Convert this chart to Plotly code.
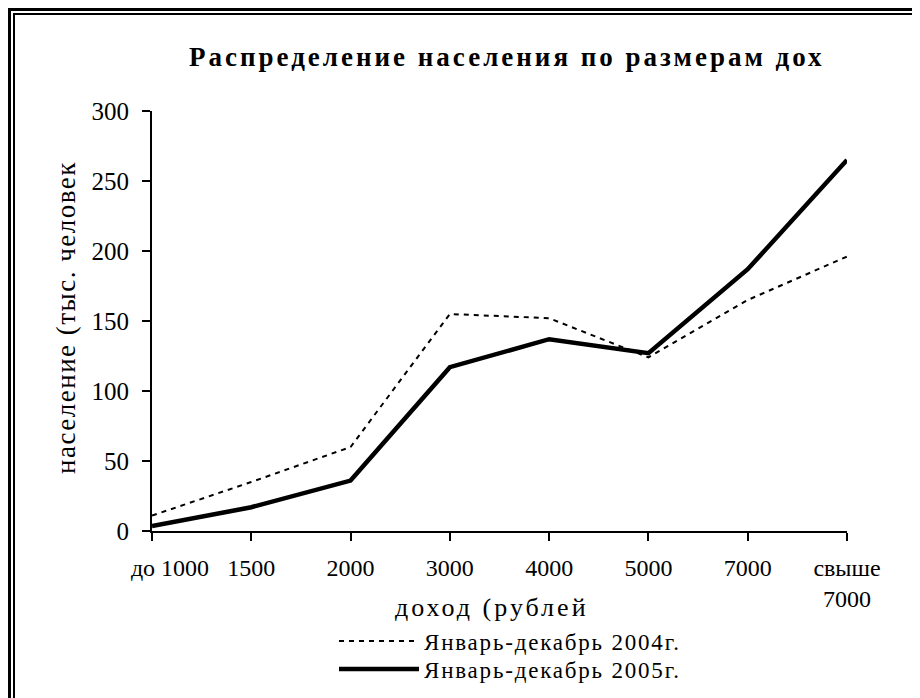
import plotly.graph_objects as go

categories = ["\u00a0\u00a0\u00a0\u00a0\u00a0\u00a0до 1000", "1500", "2000", "3000", "4000", "5000", "7000", "свыше<br>7000"]
series_2004 = [11, 35, 60, 155, 152, 124, 165, 196]
series_2005 = [3.5, 17, 36, 117, 137, 127, 187, 265]
name_2004 = "Январь-декабрь 2004г."
name_2005 = "Январь-декабрь 2005г."
y_ticks = [0, 50, 100, 150, 200, 250, 300]
title_text = "Распределение населения по размерам дох"
x_title = "доход (рублей"
y_title = "население (тыс. человек"

OFF = 8  # default page body margin
W, H = 920 - OFF, 698 - OFF
# plot area in screen pixels
L, R, T, B = 152 - OFF, 847 - OFF, 111 - OFF, 531 - OFF

def px(xs):
    return (xs - OFF - L) / (R - L)

def py(ys):
    return (B - (ys - OFF)) / (B - T)

def cx(xs):
    return (xs - OFF) / W

def cy(ys):
    return 1 - (ys - OFF) / H

FONT = "Liberation Serif"

def spaced(text, s):
    return "<span style='letter-spacing:%spx'>%s</span>" % (s, text)

fig = go.Figure()
fig.add_trace(go.Scatter(x=categories, y=series_2004, mode="lines", name=spaced(name_2004, 1.8),
                         legend="legend",
                         line=dict(color="black", width=2, dash="5px,5px")))
fig.add_trace(go.Scatter(x=categories, y=series_2005, mode="lines", name=spaced(name_2005, 1.8),
                         legend="legend2",
                         line=dict(color="black", width=4.5)))

legend_common = dict(xref="container", yref="container", xanchor="left", yanchor="middle",
                     font=dict(family=FONT, size=23, color="black"),
                     itemwidth=80, bgcolor="rgba(0,0,0,0)", borderwidth=0)

fig.update_layout(
    width=W, height=H,
    margin=dict(l=L, r=W - R, t=T, b=H - B, pad=0, autoexpand=False),
    paper_bgcolor="white", plot_bgcolor="white",
    font=dict(family=FONT, color="black", size=22),
    showlegend=True,
    legend=dict(x=cx(334), y=cy(641), **legend_common),
    legend2=dict(x=cx(334), y=cy(669), **legend_common),
    xaxis=dict(type="category", range=[0, 7], showgrid=False, zeroline=False,
               showline=True, linecolor="black", linewidth=2,
               ticks="outside", ticklen=8, tickwidth=2, tickcolor="black",
               ticklabelstandoff=6,
               tickfont=dict(family=FONT, size=24, color="black")),
    yaxis=dict(range=[0, 300], tickvals=y_ticks, showgrid=False, zeroline=False,
               showline=True, linecolor="black", linewidth=2,
               ticks="outside", ticklen=8, tickwidth=2, tickcolor="black",
               ticklabelstandoff=8,
               tickfont=dict(family=FONT, size=25, color="black")),
    annotations=[
        dict(text="<b>" + spaced(title_text, 3) + "</b>",
             xref="paper", yref="paper",
             x=px(187), y=py(57), xanchor="left", yanchor="middle", showarrow=False,
             font=dict(family=FONT, size=27, color="black")),
        dict(text=spaced(x_title, 3),
             xref="paper", yref="paper",
             x=px(492), y=py(607), xanchor="center", yanchor="middle", showarrow=False,
             font=dict(family=FONT, size=26, color="black")),
        dict(text=spaced(y_title, 1.5),
             xref="paper", yref="paper", textangle=-90,
             x=px(66), y=py(318), xanchor="center", yanchor="middle", showarrow=False,
             font=dict(family=FONT, size=27, color="black")),
    ],
    shapes=[
        dict(type="line", xref="paper", yref="paper", x0=px(9.5), x1=px(9.5), y0=py(8), y1=py(700),
             line=dict(color="black", width=3)),
        dict(type="line", xref="paper", yref="paper", x0=px(8), x1=px(922), y0=py(9.5), y1=py(9.5),
             line=dict(color="black", width=3)),
        dict(type="line", xref="paper", yref="paper", x0=px(14), x1=px(14), y0=py(13), y1=py(700),
             line=dict(color="black", width=2)),
        dict(type="line", xref="paper", yref="paper", x0=px(13), x1=px(922), y0=py(14), y1=py(14),
             line=dict(color="black", width=2)),
    ],
)

fig.write_html("out.html")
